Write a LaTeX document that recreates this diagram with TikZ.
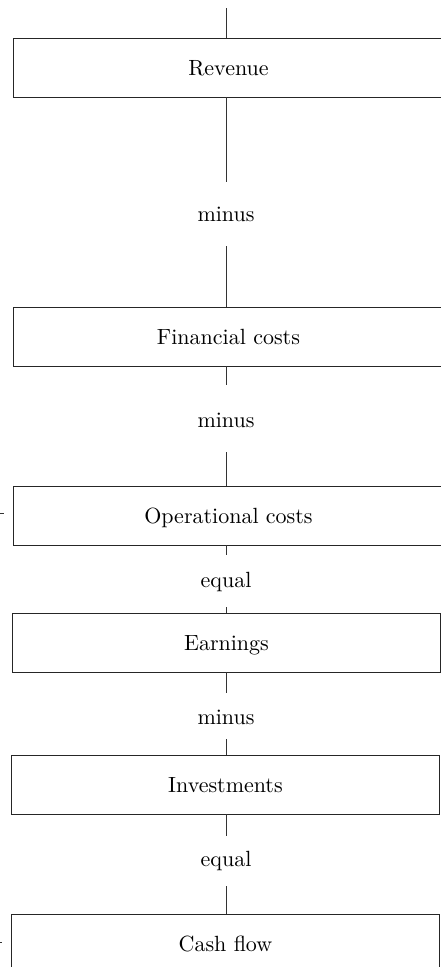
\documentclass[tikz,border=0pt]{standalone}
\usepackage{fontspec}
\setmainfont{lmroman10-regular.otf}
\begin{document}
\begin{tikzpicture}[x=1pt,y=-1pt,
  box/.style={draw=black!85, line width=0.9pt, rectangle, inner sep=0pt,
    minimum height=59pt, anchor=north west, text height=15pt, text depth=0pt,
    font=\fontsize{22}{26}\selectfont},
  lbl/.style={inner sep=0pt, anchor=base, font=\fontsize{22}{26}\selectfont},
  conn/.style={draw=black!80, line width=0.75pt}]
\useasboundingbox (0,0) rectangle (441,967);
\clip (0,0) rectangle (441,967);
% boxes
\node[box, minimum width=430pt] (rev) at (13,38) {Revenue};
\node[box, minimum width=430pt] (fin) at (13,307) {Financial costs};
\node[box, minimum width=430pt] (ops) at (13,486) {Operational costs};
\node[box, minimum width=428pt] (earn) at (12,613) {Earnings};
\node[box, minimum width=428pt] (inv) at (11,755) {Investments};
\node[box, minimum width=428pt] (cash) at (11,914) {Cash flow};
% labels
\node[lbl] (m1) at (226,221.5) {minus};
\node[lbl] (m2) at (226,427.5) {minus};
\node[lbl] (e1) at (226,587) {equal};
\node[lbl] (m3) at (226,724.5) {minus};
\node[lbl] (e2) at (226,866.5) {equal};
% connector ends
\coordinate (top) at (226,8);
\coordinate (a1) at (226,182);
\coordinate (b1) at (226,246);
\coordinate (a2) at (226,385);
\coordinate (b2) at (226,452);
\coordinate (a3) at (226,555);
\coordinate (b3) at (226,607);
\coordinate (a4) at (226,693);
\coordinate (b4) at (226,739);
\coordinate (a5) at (226,836);
\coordinate (b5) at (226,886);
% connectors
\draw[conn] (top) -- (226,38);
\draw[conn] (226,97) -- (a1);
\draw[conn] (b1) -- (226,307);
\draw[conn] (226,366) -- (a2);
\draw[conn] (b2) -- (226,486);
\draw[conn] (226,545) -- (a3);
\draw[conn] (b3) -- (226,613);
\draw[conn] (226,672) -- (a4);
\draw[conn] (b4) -- (226,755);
\draw[conn] (226,814) -- (a5);
\draw[conn] (b5) -- (226,914);
% left edge ticks
\coordinate (t1a) at (0,513);
\coordinate (t1b) at (4,513);
\coordinate (t2a) at (0,942);
\coordinate (t2b) at (2,942);
\draw[conn] (t1a) -- (t1b);
\draw[conn] (t2a) -- (t2b);
\end{tikzpicture}
\end{document}
